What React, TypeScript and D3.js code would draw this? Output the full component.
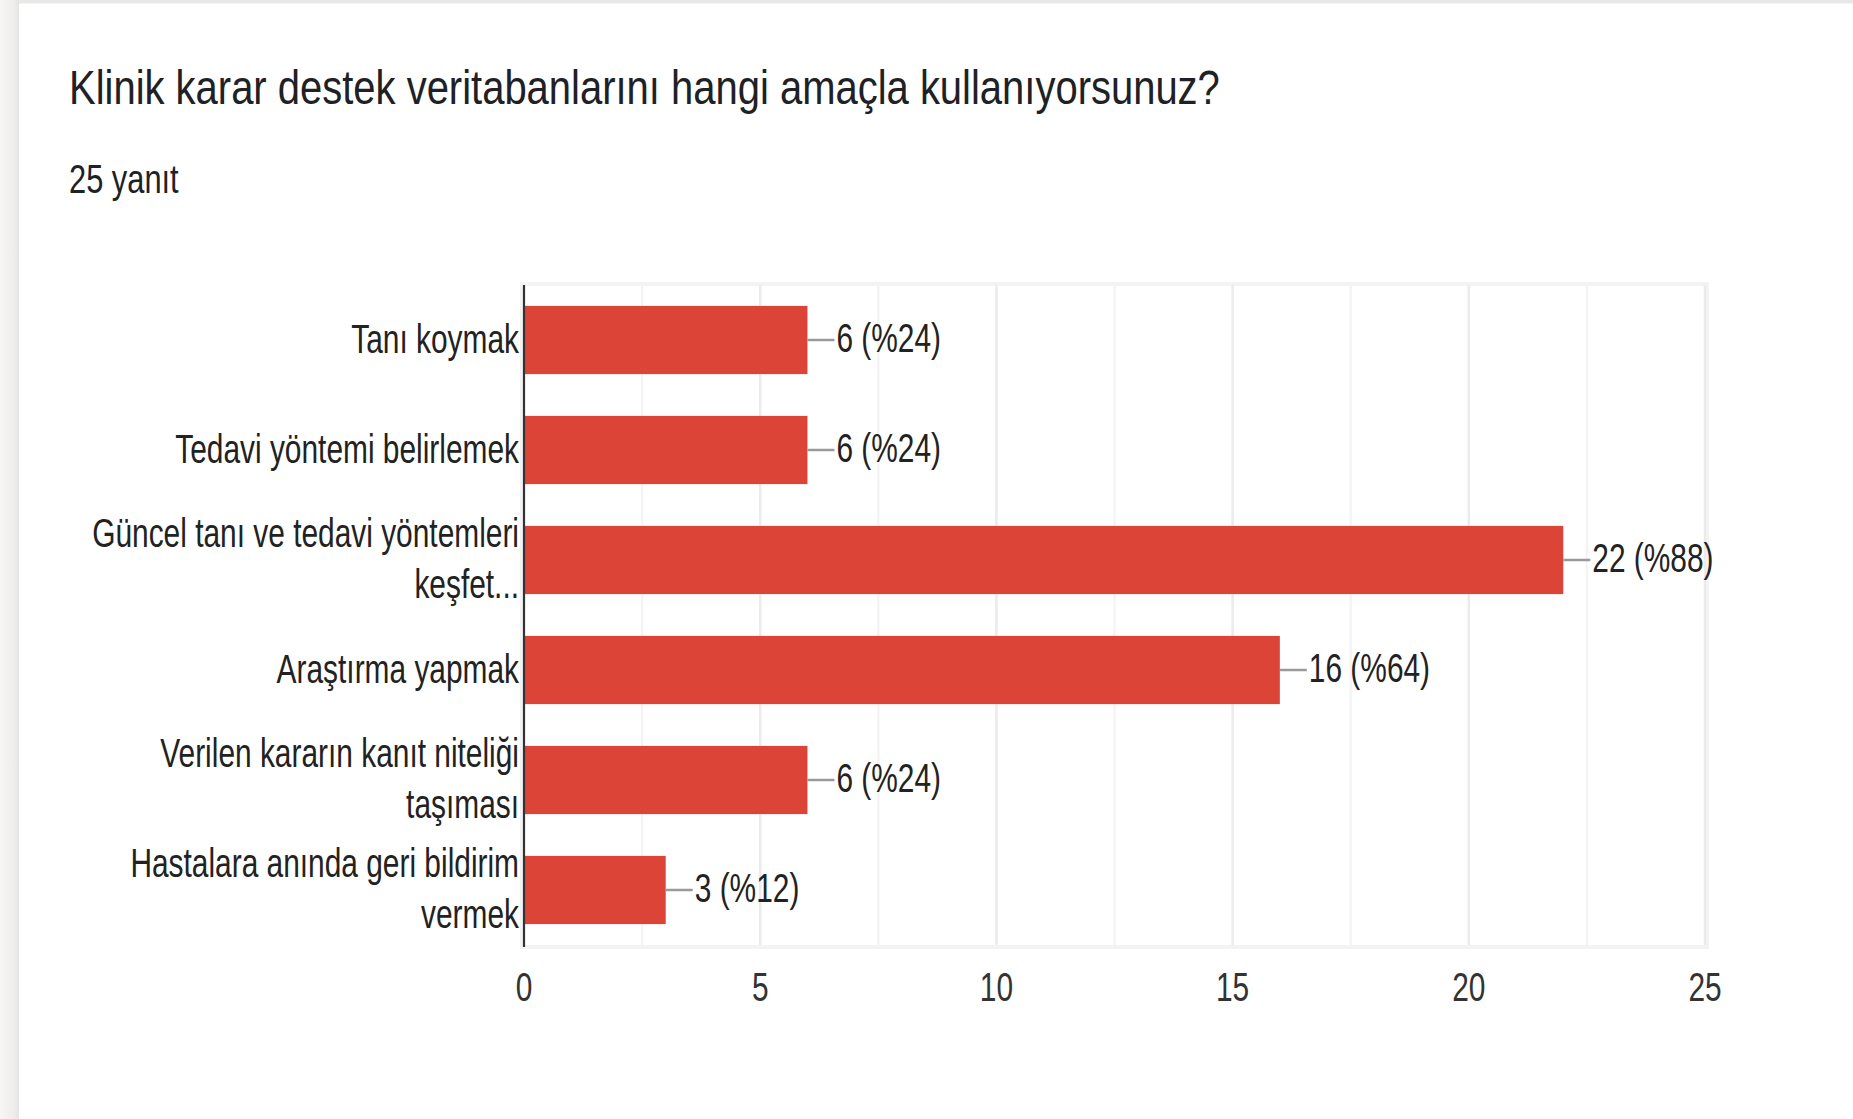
import React from "react";
import * as d3 from "d3";

const TITLE = "Klinik karar destek veritabanlarını hangi amaçla kullanıyorsunuz?";
const SUBTITLE = "25 yanıt";
const TOTAL = 25;

const categories: string[][] = [
  ["Tanı koymak"],
  ["Tedavi yöntemi belirlemek"],
  ["Güncel tanı ve tedavi yöntemleri", "keşfet..."],
  ["Araştırma yapmak"],
  ["Verilen kararın kanıt niteliği", "taşıması"],
  ["Hastalara anında geri bildirim", "vermek"],
];
const values: number[] = [6, 6, 22, 16, 6, 3];
const majorTicks: number[] = [0, 5, 10, 15, 20, 25];
const gridValues: number[] = [2.5, 5, 7.5, 10, 12.5, 15, 17.5, 20, 22.5, 25];

const W = 1853;
const H = 1119;
const FONT = "'Liberation Sans', Arial, sans-serif";
const SX = 0.738;
const FS = 40.5;

function CText({ x, y, children, anchor = "start", size = FS, sx = SX, fill = "#222" }: any) {
  return (
    <text
      transform={`translate(${x},${y}) scale(${sx},1)`}
      textAnchor={anchor}
      fontSize={size}
      fontFamily={FONT}
      fill={fill}
    >
      {children}
    </text>
  );
}

export default function App() {
  const left = 524;
  const right = 1705;
  const top = 285;
  const bottom = 945;

  const x = d3.scaleLinear().domain([0, 25]).range([left, right]);
  const y = d3
    .scaleBand<number>()
    .domain(d3.range(categories.length))
    .range([top, bottom])
    .paddingInner(0.38)
    .paddingOuter(0.19);

  return (
    <div style={{ position: "fixed", left: 0, top: 0, width: W, height: H, background: "#fff" }}>
      <svg width={W} height={H} style={{ display: "block" }}>
        <defs>
          <linearGradient id="edge" x1="0" x2="1" y1="0" y2="0">
            <stop offset="0" stopColor="#f7f6f4" />
            <stop offset="0.75" stopColor="#ededeb" />
            <stop offset="1" stopColor="#e4e4e2" />
          </linearGradient>
        </defs>
        <rect x={0} y={0} width={W} height={H} fill="#ffffff" />
        <rect x={0} y={0} width={W} height={3.5} fill="#e8e8e6" />
        <rect x={0} y={0} width={19} height={H} fill="url(#edge)" />

        <CText x={69} y={104} size={49} sx={0.816} fill="#202124">
          {TITLE}
        </CText>
        <CText x={69} y={193} size={41} sx={0.752} fill="#202124">
          {SUBTITLE}
        </CText>

        {/* plot frame */}
        <rect
          x={left - 2}
          y={top - 1}
          width={right - left + 4}
          height={bottom - top + 3}
          fill="none"
          stroke="#f3f3f3"
          strokeWidth={4}
        />

        {/* gridlines */}
        {gridValues.map((v) => (
          <line
            key={"g" + v}
            x1={x(v)}
            x2={x(v)}
            y1={top}
            y2={bottom}
            stroke={v % 5 === 0 ? "#ebebeb" : "#f4f4f4"}
            strokeWidth={2.5}
          />
        ))}

        {/* bars */}
        {values.map((v, i) => (
          <rect
            key={"b" + i}
            x={x(0)}
            y={y(i)!}
            width={x(v) - x(0)}
            height={y.bandwidth()}
            fill="#db4437"
          />
        ))}

        {/* leader lines and value labels */}
        {values.map((v, i) => {
          const cy = y(i)! + y.bandwidth() / 2;
          return (
            <g key={"l" + i}>
              <line x1={x(v)} x2={x(v) + 27} y1={cy} y2={cy} stroke="#999" strokeWidth={2.5} />
              <CText x={x(v) + 29} y={cy + 12}>
                {`${v} (%${Math.round((v / TOTAL) * 100)})`}
              </CText>
            </g>
          );
        })}

        {/* axis line */}
        <line x1={left} x2={left} y1={top} y2={bottom + 2} stroke="#333" strokeWidth={2.2} />

        {/* category labels */}
        {categories.map((lines, i) => {
          const cy = y(i)! + y.bandwidth() / 2;
          if (lines.length === 1) {
            return (
              <CText key={"c" + i} x={left - 5} y={cy + 13} anchor="end">
                {lines[0]}
              </CText>
            );
          }
          return (
            <g key={"c" + i}>
              {lines.map((ln, j) => (
                <CText key={j} x={left - 5} y={cy - 13 + j * 51} anchor="end">
                  {ln}
                </CText>
              ))}
            </g>
          );
        })}

        {/* x tick labels */}
        {majorTicks.map((t) => (
          <CText key={"t" + t} x={x(t)} y={1001} anchor="middle" fill="#333">
            {String(t)}
          </CText>
        ))}
      </svg>
    </div>
  );
}
